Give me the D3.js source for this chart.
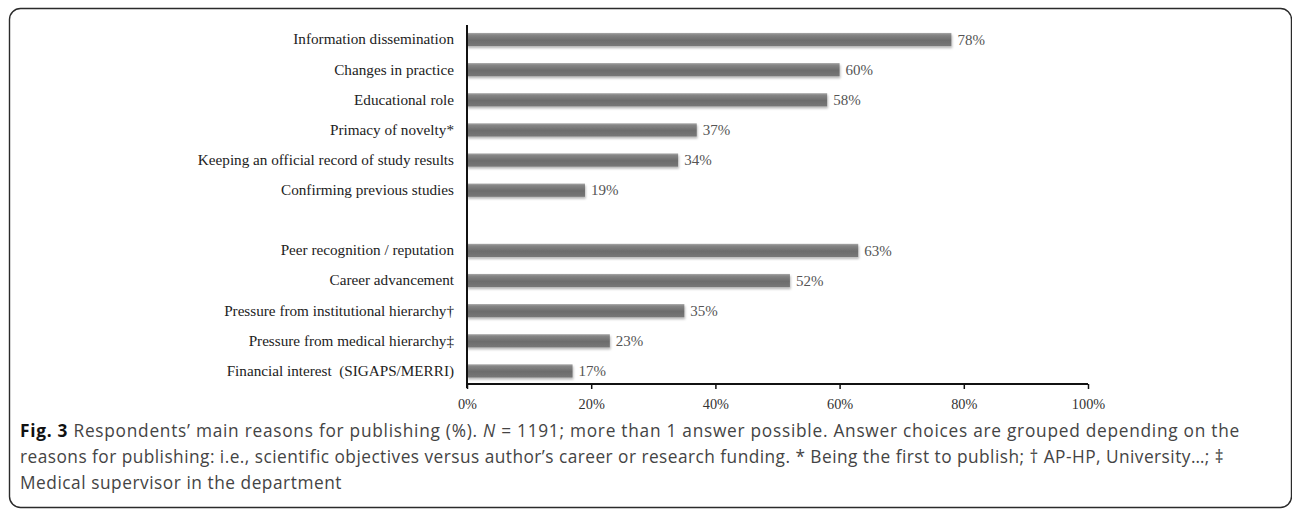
<!DOCTYPE html>
<html>
<head>
<meta charset="utf-8">
<script src="https://cdn.jsdelivr.net/npm/d3@7"></script>
<style>
  html, body { margin: 0; padding: 0; background: #fff; }
  svg { display: block; }
  text { white-space: pre; }
</style>
</head>
<body>
<svg id="chart" width="1292" height="511"></svg>
<script>
// Reasons for publishing, grouped: scientific objectives, then career / funding
const scientificReasons = [
  "Information dissemination",
  "Changes in practice",
  "Educational role",
  "Primacy of novelty*",
  "Keeping an official record of study results",
  "Confirming previous studies"
];
const scientificValues = [78, 60, 58, 37, 34, 19];

const careerReasons = [
  "Peer recognition / reputation",
  "Career advancement",
  "Pressure from institutional hierarchy†",
  "Pressure from medical hierarchy‡",
  "Financial interest  (SIGAPS/MERRI)"
];
const careerValues = [63, 52, 35, 23, 17];

const xTicks = [0, 20, 40, 60, 80, 100];

const captionLines = [
  [{t: "Fig. 3", b: true}, {t: " Respondents’ main reasons for publishing (%). "}, {t: "N", i: true},
   {t: " = 1191; more than 1 answer possible. Answer choices are grouped depending on the"}],
  [{t: "reasons for publishing: i.e., scientific objectives versus author’s career or research funding. * Being the first to publish; † AP-HP, University…; ‡"}],
  [{t: "Medical supervisor in the department"}]
];
// Set width of each caption line
const captionWidths = [1220, 1204, 322];

// Rows: scientific group, a blank spacer row, then the career group
const rows = scientificReasons.map((c, i) => ({key: c, label: c, value: scientificValues[i]}))
  .concat([{key: "__gap__", label: "", value: null}])
  .concat(careerReasons.map((c, i) => ({key: c, label: c, value: careerValues[i]})));

const svg = d3.select("#chart");

// Figure frame
svg.append("rect")
  .attr("x", 9.5).attr("y", 8.5)
  .attr("width", 1282).attr("height", 499)
  .attr("rx", 11).attr("ry", 11)
  .attr("fill", "none").attr("stroke", "#2b2b2b").attr("stroke-width", 1.4);

const defs = svg.append("defs");
const grad = defs.append("linearGradient")
  .attr("id", "barGrad").attr("x1", 0).attr("y1", 0).attr("x2", 0).attr("y2", 1);
grad.append("stop").attr("offset", "0%").attr("stop-color", "#a8a8a8");
grad.append("stop").attr("offset", "15%").attr("stop-color", "#858585");
grad.append("stop").attr("offset", "55%").attr("stop-color", "#6c6c6c");
grad.append("stop").attr("offset", "100%").attr("stop-color", "#777");

const shadow = defs.append("filter").attr("id", "barShadow")
  .attr("x", "-5%").attr("y", "-40%").attr("width", "110%").attr("height", "200%");
shadow.append("feDropShadow")
  .attr("dx", 0.8).attr("dy", 2).attr("stdDeviation", 1.2)
  .attr("flood-color", "#000").attr("flood-opacity", 0.28);

const x = d3.scaleLinear().domain([0, 100]).range([467, 1088]);
const y = d3.scaleBand().domain(rows.map(d => d.key)).range([24.5, 386]).paddingInner(0.56).paddingOuter(0.28);

const serif = "'Liberation Serif', 'Times New Roman', serif";

// Bars
svg.append("g").selectAll("rect")
  .data(rows.filter(d => d.value !== null))
  .join("rect")
  .attr("x", x(0))
  .attr("y", d => y(d.key))
  .attr("width", d => x(d.value) - x(0))
  .attr("height", y.bandwidth())
  .attr("fill", "url(#barGrad)")
  .attr("filter", "url(#barShadow)");

// Value labels
svg.append("g").selectAll("text")
  .data(rows.filter(d => d.value !== null))
  .join("text")
  .attr("x", d => x(d.value) + 6)
  .attr("y", d => y(d.key) + y.bandwidth() / 2)
  .attr("dy", "0.35em")
  .attr("font-family", serif).attr("font-size", 15)
  .attr("fill", "#555")
  .text(d => d.value + "%");

// Category axis
const yAxis = svg.append("g")
  .attr("transform", `translate(${x(0)},0)`)
  .call(d3.axisLeft(y).tickSize(0).tickPadding(13).tickFormat(k => k === "__gap__" ? "" : k));
yAxis.select(".domain").attr("d", "M0,25V388").attr("stroke", "#111").attr("stroke-width", 2);
yAxis.selectAll("text")
  .attr("font-family", serif).attr("font-size", 15.2).attr("fill", "#222");

// Percentage axis
const xAxis = svg.append("g")
  .attr("transform", "translate(0,384)")
  .call(d3.axisBottom(x).tickValues(xTicks).tickSize(5).tickPadding(10).tickFormat(d => d + "%"));
xAxis.select(".domain").attr("d", `M${x(0)},0H${x(100)}`).attr("stroke", "#111").attr("stroke-width", 2);
xAxis.selectAll(".tick line").attr("stroke", "#111").attr("stroke-width", 1.5);
xAxis.selectAll("text")
  .attr("font-family", serif).attr("font-size", 14.3).attr("fill", "#333");

// Caption: fixed size, per-line letter spacing so each line spans its width
const cap = svg.append("g")
  .attr("font-family", "'Open Sans', 'Noto Sans', sans-serif")
  .attr("font-size", 17.3)
  .attr("fill", "#444");
const capY = [437, 463, 489];
captionLines.forEach((line, i) => {
  const t = cap.append("text").attr("x", 20).attr("y", capY[i]);
  line.forEach(seg => {
    const s = t.append("tspan").text(seg.t);
    if (seg.b) s.attr("font-weight", "bold").attr("fill", "#111");
    if (seg.i) s.attr("font-style", "italic");
  });
  const len = t.node().getComputedTextLength();
  const n = line.map(s => s.t).join("").length;
  t.attr("letter-spacing", (captionWidths[i] - len) / n);
});
</script>
</body>
</html>
